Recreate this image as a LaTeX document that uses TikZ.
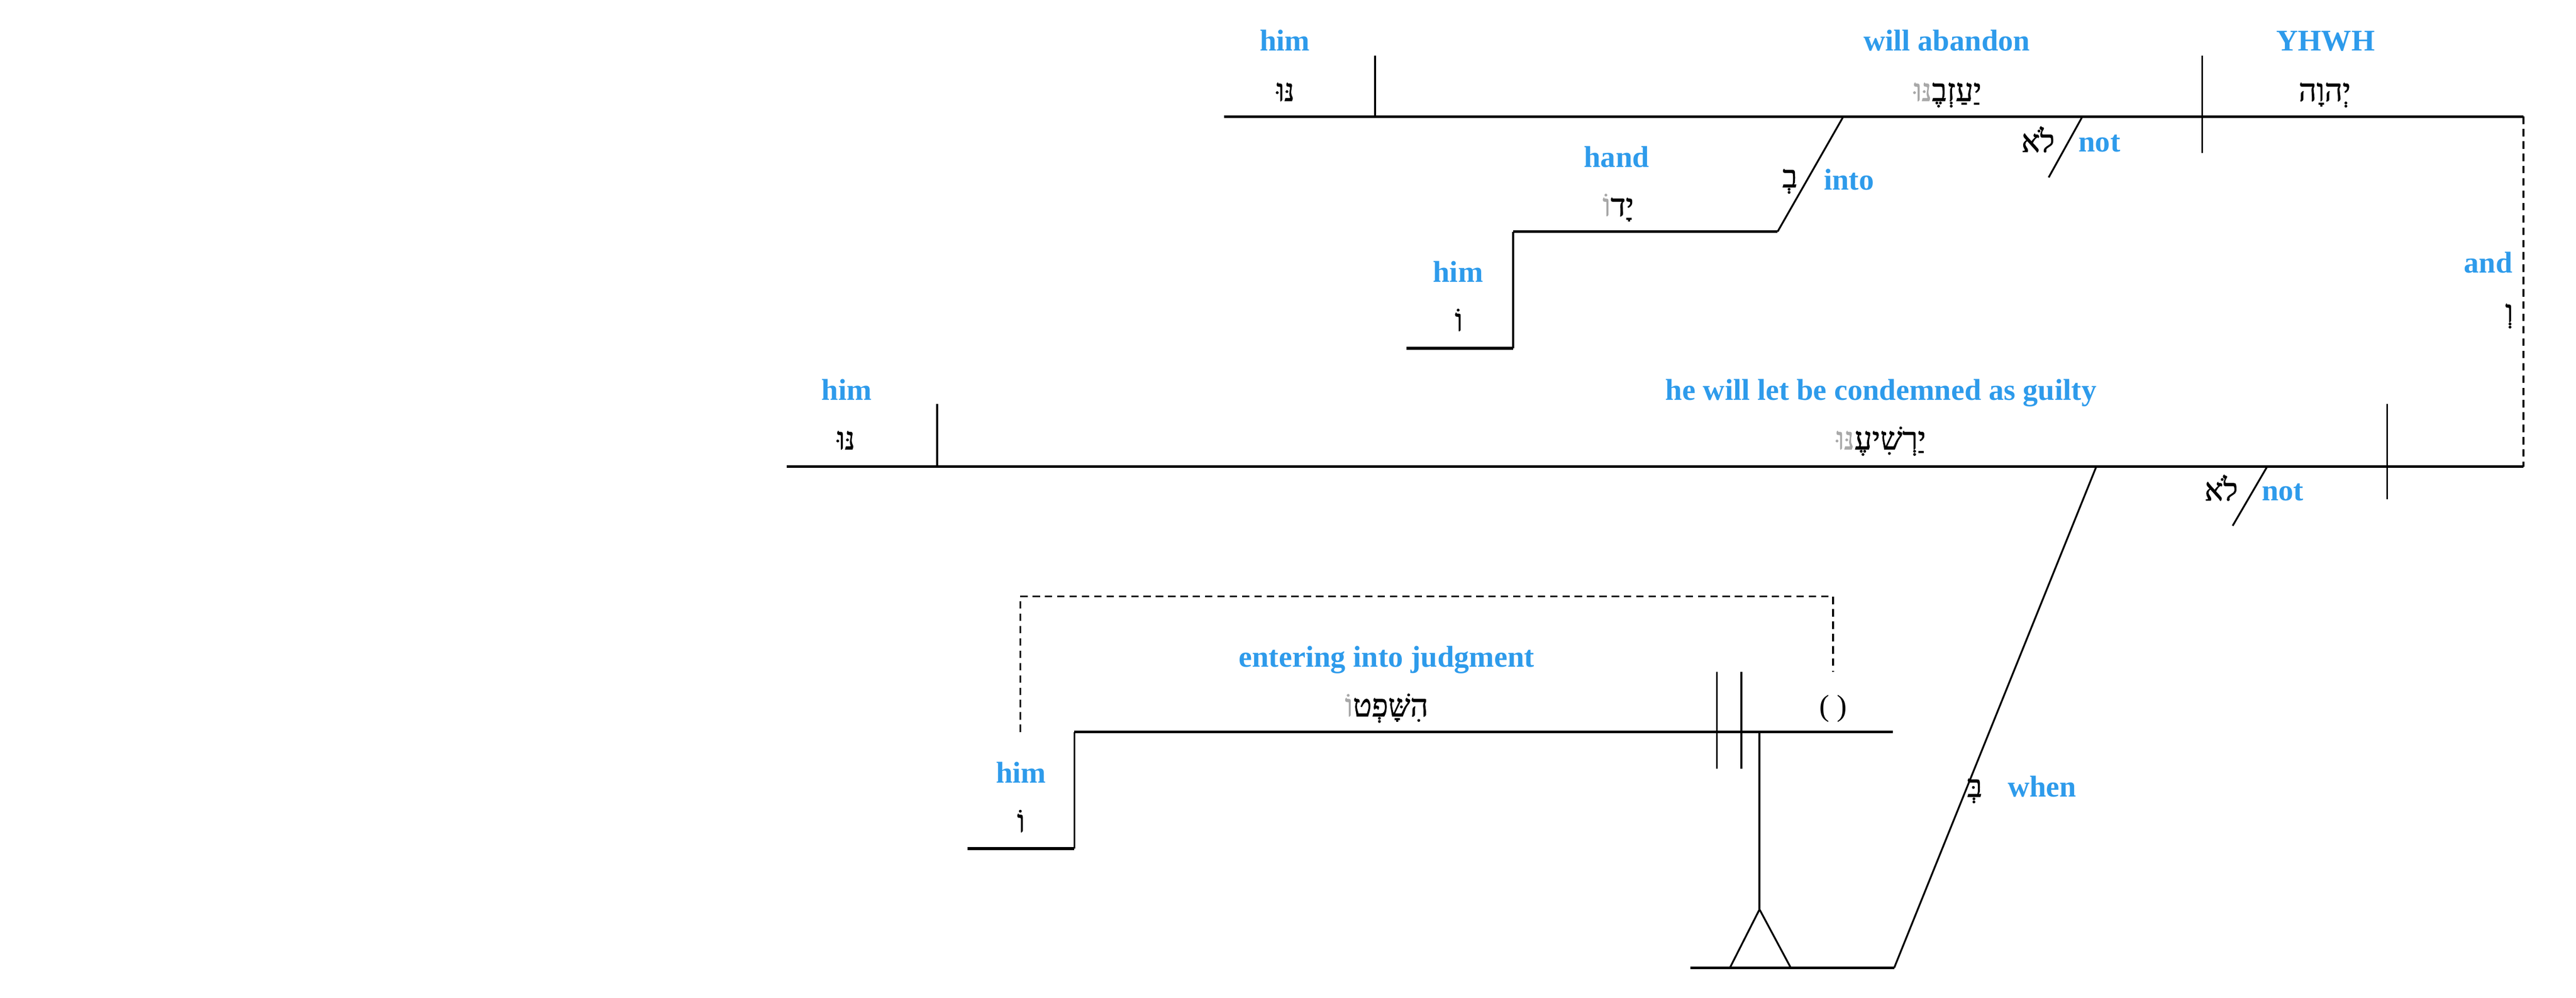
\documentclass[tikz,border=0pt]{standalone}
\usepackage{fontspec}
\setmainfont{Liberation Serif}
\newfontfamily\heb[Script=Hebrew,FakeBold=1.2]{Liberation Serif}
\TeXXeTstate=1
\definecolor{lbl}{HTML}{2E9BEB}
\definecolor{sfx}{HTML}{A8A8A8}
\newcommand{\hb}[1]{{\heb\beginR #1\endR}}
\newcommand{\hbg}[1]{{\color{sfx}\heb\beginR #1\endR}}
\begin{document}
\begin{tikzpicture}[x=1pt,y=-1pt,
  baseln/.style={line width=1.6pt},
  thinln/.style={line width=1.1pt},
  connln/.style={line width=1.1pt, dash pattern=on 4.5pt off 3pt},
  en/.style={inner sep=0pt, anchor=base, text=lbl, font=\fontsize{18.3}{20}\selectfont\bfseries},
  hw/.style={inner sep=0pt, anchor=base, font=\fontsize{19}{22}\selectfont},
]
\useasboundingbox (0,0) rectangle (1568,607.4);

% ---------- coordinates ----------
% clause 1
\coordinate (a1) at (745,71);    \coordinate (a2) at (1536,71);
\coordinate (o1t) at (837,34);   \coordinate (o1b) at (837,71);
\coordinate (s1t) at (1340.5,34); \coordinate (s1b) at (1340.5,93);
\coordinate (i1) at (1122,71);   \coordinate (i2) at (1082,141);
\coordinate (h1) at (921,141);   \coordinate (h2) at (921,212);
\coordinate (h3) at (856,212);
\coordinate (n1t) at (1267.5,71); \coordinate (n1b) at (1247,108);
% conjunction
\coordinate (c2) at (1536,284);
% clause 2
\coordinate (b1) at (479,284);
\coordinate (o2t) at (570.5,246); \coordinate (o2b) at (570.5,284);
\coordinate (s2t) at (1453,246); \coordinate (s2b) at (1453,304);
\coordinate (n2t) at (1380,284); \coordinate (n2b) at (1359,320);
\coordinate (w1) at (1276,284);  \coordinate (w2) at (1153,589);
\coordinate (w3) at (1029,589);
\coordinate (p1) at (1071,445.5); \coordinate (p2) at (1071,553.5);
\coordinate (p3) at (1053,589);  \coordinate (p4) at (1090,589);
% infinitive clause
\coordinate (e1) at (654,445.5); \coordinate (e2) at (1152,445.5);
\coordinate (e3) at (654,516.5); \coordinate (e4) at (589,516.5);
\coordinate (v1t) at (1045,409); \coordinate (v1b) at (1045,468);
\coordinate (v2t) at (1060,409); \coordinate (v2b) at (1060,468);
\coordinate (q1) at (621,445.5); \coordinate (q2) at (621,363);
\coordinate (q3) at (1115.7,363); \coordinate (q4) at (1115.7,409);

% ---------- lines ----------
\draw[baseln] (a1) -- (a2);
\draw[thinln] (o1t) -- (o1b);
\draw[thinln] (s1t) -- (s1b);
\draw[thinln] (i1) -- (i2);
\draw[baseln] (i2) -- (h1);
\draw[thinln] (h1) -- (h2);
\draw[baseln] (h2) -- (h3);
\draw[thinln] (n1t) -- (n1b);
\draw[connln] (a2) -- (c2);
\draw[baseln] (b1) -- (c2);
\draw[thinln] (o2t) -- (o2b);
\draw[thinln] (s2t) -- (s2b);
\draw[thinln] (n2t) -- (n2b);
\draw[thinln] (w1) -- (w2);
\draw[baseln] (w3) -- (w2);
\draw[thinln] (p1) -- (p2);
\draw[thinln] (p3) -- (p2) -- (p4);
\draw[baseln] (e4) -- (e3);
\draw[thinln] (e3) -- (e1);
\draw[baseln] (e1) -- (e2);
\draw[thinln] (v1t) -- (v1b);
\draw[thinln] (v2t) -- (v2b);
\draw[connln] (q1) -- (q2) -- (q3) -- (q4);

% ---------- labels ----------
% clause 1
\node[en] (t1) at (782,31) {him};
\node[hw] (hb1) at (782.5,61.5) {\hb{נּוּ}};
\node[en] (t2) at (1185,31) {will abandon};
\node[hw] (hb2) at (1185.5,61.5) {\hbg{נּוּ}\hb{יַעַזְבֶ}};
\node[en] (t3) at (1415.5,31) {YHWH};
\node[hw] (hb3) at (1415,61.5) {\hb{יְהוָה}};
\node[en] (t4) at (984,101.8) {hand};
\node[hw] (hb4) at (985,131.5) {\hbg{וֹ}\hb{יָד}};
\node[en] (t5) at (887.5,171.8) {him};
\node[hw] (hb5) at (888,201.5) {\hb{וֹ}};
\node[en, anchor=base west] (t6) at (1110,115.7) {into};
\node[hw] (hb6) at (1089.5,114) {\hb{בְ}};
\node[en, anchor=base west] (t7) at (1265,92.5) {not};
\node[hw] (hb7) at (1240.5,92.5) {\hb{לֹא}};
% conjunction
\node[en, anchor=base east] (t8) at (1529.5,166) {and};
\node[hw, anchor=base east] (hb8) at (1530,196) {\hb{וְ}};
% clause 2
\node[en] (t9) at (515.4,243.5) {him};
\node[hw] (hb9) at (515,273.5) {\hb{נּוּ}};
\node[en] (t10) at (1145,243.5) {he will let be condemned as guilty};
\node[hw] (hb10) at (1145,273.5) {\hbg{נּוּ}\hb{יַרְשִׁיעֶ}};
\node[en, anchor=base west] (t11) at (1376.6,304.6) {not};
\node[hw] (hb11) at (1352,304.6) {\hb{לֹא}};
\node[en, anchor=base west] (t12) at (1222,485) {when};
\node[hw] (hb12) at (1202,485) {\hb{בְּ}};
% infinitive clause
\node[en] (t13) at (844,406) {entering into judgment};
\node[hw] (hb13) at (844,436) {\hbg{וֹ}\hb{הִשָּׁפְט}};
\node[inner sep=0pt, anchor=base, font=\fontsize{18.3}{20}\selectfont] (pp) at (1115.7,435.6) {( )};
\node[en] (t14) at (621.5,476.5) {him};
\node[hw] (hb14) at (621.5,506.5) {\hb{וֹ}};
\end{tikzpicture}
\end{document}
